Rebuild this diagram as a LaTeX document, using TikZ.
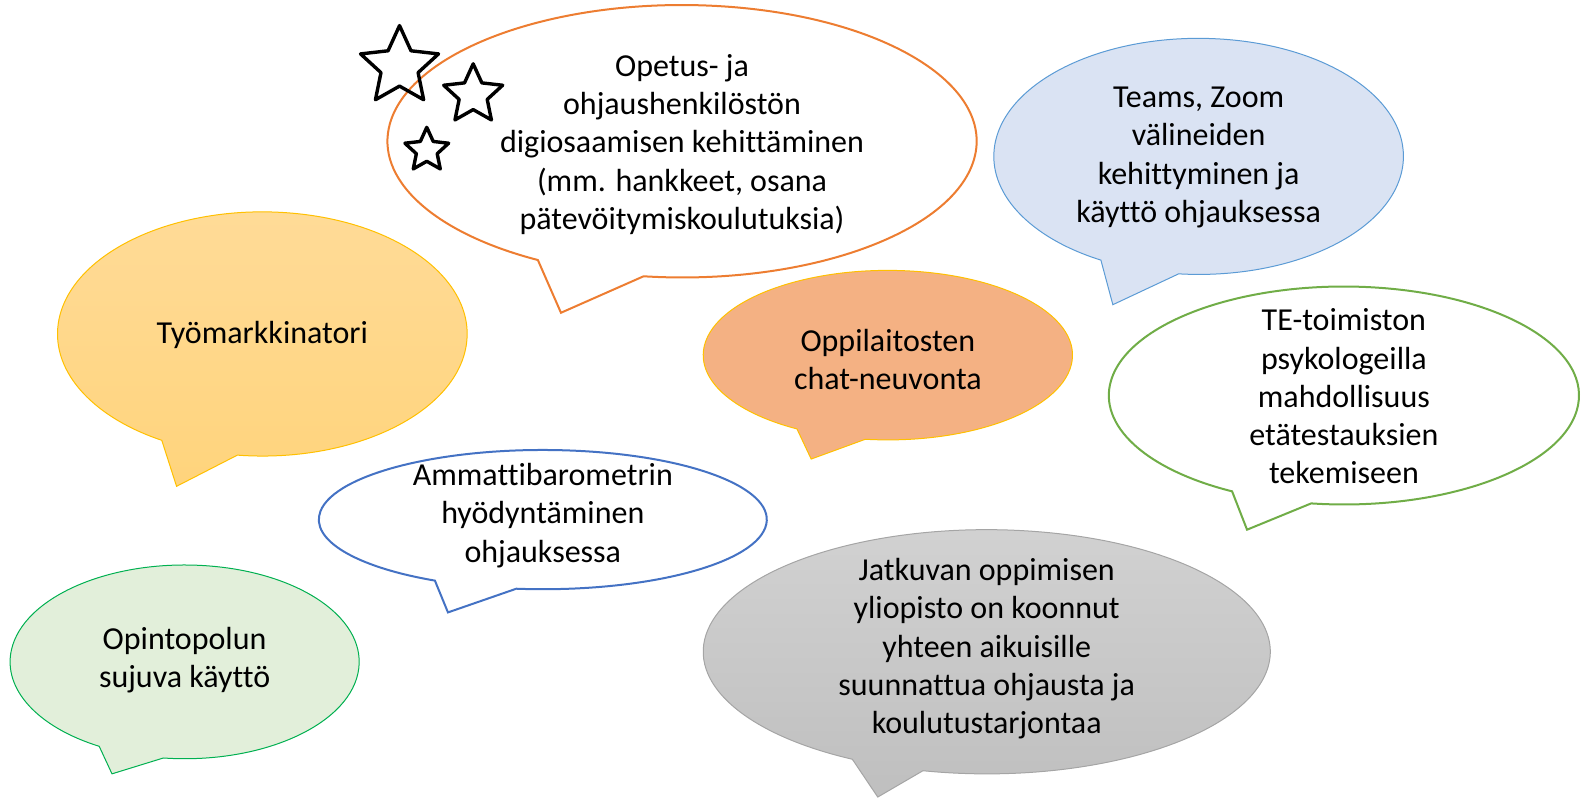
\documentclass[tikz,border=0pt]{standalone}
\usepackage{fontspec}
\setmainfont{Carlito}[RawFeature={-liga;-clig;-calt;-dlig}]
\usetikzlibrary{shapes.geometric}
\definecolor{orangeline}{HTML}{ED7D31}
\definecolor{goldline}{HTML}{FFC000}
\definecolor{yellowtop}{HTML}{FFDB98}
\definecolor{yellowbot}{HTML}{FFD47C}
\definecolor{lightblue}{HTML}{DAE3F3}
\definecolor{blueline}{HTML}{5B9BD5}
\definecolor{salmon}{HTML}{F4B183}
\definecolor{greenline}{HTML}{70AD47}
\definecolor{darkblue}{HTML}{4472C4}
\definecolor{palegreen}{HTML}{E2EFDA}
\definecolor{brightgreen}{HTML}{00B050}
\definecolor{graytop}{HTML}{D2D2D2}
\definecolor{graybot}{HTML}{BFBFBF}
\definecolor{grayline}{HTML}{A5A5A5}
\newcommand\mycallout[9]{\path[#1] (#2,#3) ++(#7:#4 and #5) arc[start angle=#7, end angle=#6-360, x radius=#4, y radius=#5] -- (#8,#9) -- cycle;}
\tikzset{
  txt/.style={align=center, font=\fontsize{32}{38.3}\selectfont, text=black, inner sep=0pt},
  starshape/.style={star, star points=5, star point ratio=2.1, draw=black, line width=3.4pt, line join=round, minimum size=#1, inner sep=0pt},
  b1/.style={draw=orangeline, fill=white, line width=2pt, line join=miter},
  b2/.style={draw=goldline, top color=yellowtop, bottom color=yellowbot, line width=1pt},
  b3/.style={draw=blueline, fill=lightblue, line width=1pt},
  b4/.style={draw=goldline, fill=salmon, line width=1pt},
  b5/.style={draw=greenline, fill=white, line width=2pt},
  b6/.style={draw=darkblue, fill=white, line width=2pt},
  b7/.style={draw=brightgreen, fill=palegreen, line width=1pt},
  b8/.style={draw=grayline, top color=graytop, bottom color=graybot, line width=1pt},
}
\begin{document}
\begin{tikzpicture}[x=1.009pt, y=-1.009pt]
\useasboundingbox (0,0) rectangle (1568,792);
% callouts
\mycallout{b1}{676}{140}{292}{135}{119.3}{97.5}{556}{310}
\mycallout{b2}{260}{331}{203}{121}{119.4}{97}{175}{482}
\mycallout{b3}{1188}{155}{203}{117}{118.5}{95.6}{1103}{302}
\mycallout{b4}{880}{352}{183}{84}{119.5}{97}{804}{455}
\mycallout{b5}{1332}{392}{233}{108}{118.4}{98}{1236}{525}
\mycallout{b6}{538}{515}{222}{69}{118.8}{96.8}{444}{607}
\mycallout{b7}{183}{656}{173}{96}{119.3}{97}{111}{767}
\mycallout{b8}{978}{646}{281}{121}{118.3}{103}{870}{790}
% stars
\node[starshape=82pt] (s1) at (396,66) {};
\node[starshape=62pt] (s2) at (469,94) {};
\node[starshape=46pt] (s3) at (423,149) {};
% texts
\node[txt] (t1) at (676,143) {Opetus- ja\\ohjaushenkilöstön\\digiosaamisen kehittäminen\\(mm. hankkeet, osana\\pätevöitymiskoulutuksia)};
\node[txt] (t2) at (260,332) {Työmarkkinatori};
\node[txt] (t3) at (1188,156) {Teams, Zoom\\välineiden\\kehittyminen ja\\käyttö ohjauksessa};
\node[txt] (t4) at (880,356) {Oppilaitosten\\chat-neuvonta};
\node[txt] (t5) at (1332,393) {TE-toimiston\\psykologeilla\\mahdollisuus\\etätestauksien\\tekemiseen};
\node[txt] (t6) at (538,511) {Ammattibarometrin\\hyödyntäminen\\ohjauksessa};
\node[txt] (t7) at (183,654) {Opintopolun\\sujuva käyttö};
\node[txt] (t8) at (978,643) {Jatkuvan oppimisen\\yliopisto on koonnut\\yhteen aikuisille\\suunnattua ohjausta ja\\koulutustarjontaa};
\end{tikzpicture}
\end{document}
